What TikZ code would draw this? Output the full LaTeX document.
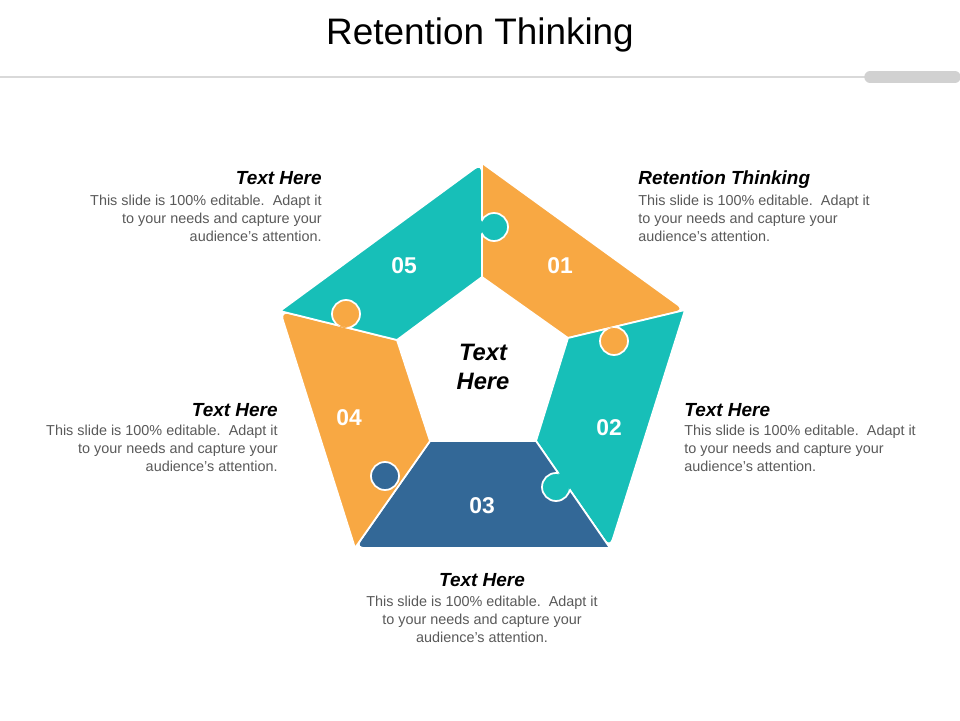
\documentclass[tikz,border=0pt]{standalone}
\usepackage{fontspec}
\setmainfont{Liberation Sans}
\frenchspacing
\usetikzlibrary{positioning}
\definecolor{orng}{HTML}{F8A843}
\definecolor{teal2}{HTML}{17BFB8}
\definecolor{blu}{HTML}{336897}
\definecolor{gtxt}{HTML}{595959}
\begin{document}
\begin{tikzpicture}[x=0.02cm,y=-0.02cm,
  piece/.style={fill=#1, draw=white, line width=1pt},
  knob/.style={fill=#1, draw=none},
  num/.style={font=\fontsize{13}{14}\selectfont\bfseries, text=white},
  head/.style={font=\fontsize{10.8}{12}\selectfont\bfseries\itshape, inner sep=0pt},
  body/.style={font=\fontsize{8.2}{10.2}\selectfont, text=gtxt, inner sep=0pt}]
  \useasboundingbox (0,0) rectangle (960,720);

  % header
  \node (title) at (480,35) {\fontsize{21}{24}\selectfont Retention Thinking};
  \draw[line width=1.5pt, black!15] (0,77) -- (870,77);
  \draw[line width=6.5pt, black!18, line cap=round] (870,77) -- (955,77);

  % outer and inner corners
  \coordinate (o1) at (482,163); \coordinate (o2) at (685,310);
  \coordinate (o3) at (610,548); \coordinate (o4) at (355,548);
  \coordinate (o5) at (280,311);
  \coordinate (i1) at (482,277); \coordinate (i2) at (568,338);
  \coordinate (i3) at (536,441); \coordinate (i4) at (430,441);
  \coordinate (i5) at (397,340);

  %% pieces
  \draw[piece=orng]  (i1) -- (o1) [rounded corners=5pt] -- (o2) [sharp corners] -- (i2) -- cycle;
  \draw[piece=teal2] (i2) -- (o2) [rounded corners=5pt] -- (o3) [sharp corners] -- (i3) -- cycle;
  \draw[piece=blu]   (i3) -- (o3) [rounded corners=5pt] -- (o4) [sharp corners] -- (i4) -- cycle;
  \draw[piece=orng]  (i4) -- (o4) [rounded corners=5pt] -- (o5) [sharp corners] -- (i5) -- cycle;
  \draw[piece=teal2] (i5) -- (o5) [rounded corners=5pt] -- (o1) [sharp corners] -- (i1) -- cycle;

  %% knobs: fill, then white rim only inside the neighbour piece
  \fill[knob=teal2] (494,227) circle (14);
  \fill[knob=orng]  (614,341) circle (14);
  \fill[knob=teal2] (556,487) circle (14);
  \fill[knob=blu]   (385,476) circle (14);
  \fill[knob=orng]  (346,314) circle (14);
  \begin{scope}
    \clip (i1) -- (o1) -- (o2) -- (i2) -- cycle;
    \draw[white, line width=1pt] (494,227) circle (14);
  \end{scope}
  \begin{scope}
    \clip (i2) -- (o2) -- (o3) -- (i3) -- cycle;
    \draw[white, line width=1pt] (614,341) circle (14);
  \end{scope}
  \begin{scope}
    \clip (i3) -- (o3) -- (o4) -- (i4) -- cycle;
    \draw[white, line width=1pt] (556,487) circle (14);
  \end{scope}
  \begin{scope}
    \clip (i4) -- (o4) -- (o5) -- (i5) -- cycle;
    \draw[white, line width=1pt] (385,476) circle (14);
  \end{scope}
  \begin{scope}
    \clip (i5) -- (o5) -- (o1) -- (i1) -- cycle;
    \draw[white, line width=1pt] (346,314) circle (14);
  \end{scope}

  %% numbers
  \node[num] (n1) at (560,266) {01};
  \node[num] (n2) at (609,428) {02};
  \node[num] (n3) at (482,506) {03};
  \node[num] (n4) at (349,418) {04};
  \node[num] (n5) at (404,266) {05};
  \node[font=\fontsize{13.5}{16.5}\selectfont\bfseries\itshape, align=center] (ctr) at (483,367) {Text\\Here};

  %% labels
  \node[head, anchor=base east] (h5) at (322,184) {Text Here};
  \node[body, anchor=north east, align=right] (b5) at (322,195) {This slide is 100\% editable.\ \ Adapt it\\to your needs and capture your\\audience's attention.};
  \node[head, anchor=base west] (h1) at (638,184) {Retention Thinking};
  \node[body, anchor=north west, align=left] (b1) at (638,195) {This slide is 100\% editable.\ \ Adapt it\\to your needs and capture your\\audience's attention.};
  \node[head, anchor=base west] (h2) at (684,416) {Text Here};
  \node[body, anchor=north west, align=left] (b2) at (684,425) {This slide is 100\% editable.\ \ Adapt it\\to your needs and capture your\\audience's attention.};
  \node[head, anchor=base east] (h4) at (278,416) {Text Here};
  \node[body, anchor=north east, align=right] (b4) at (278,425) {This slide is 100\% editable.\ \ Adapt it\\to your needs and capture your\\audience's attention.};
  \node[head, anchor=base] (h3) at (482,586) {Text Here};
  \node[body, anchor=north, align=center] (b3) at (482,596) {This slide is 100\% editable.\ \ Adapt it\\to your needs and capture your\\audience's attention.};
\end{tikzpicture}
\end{document}
